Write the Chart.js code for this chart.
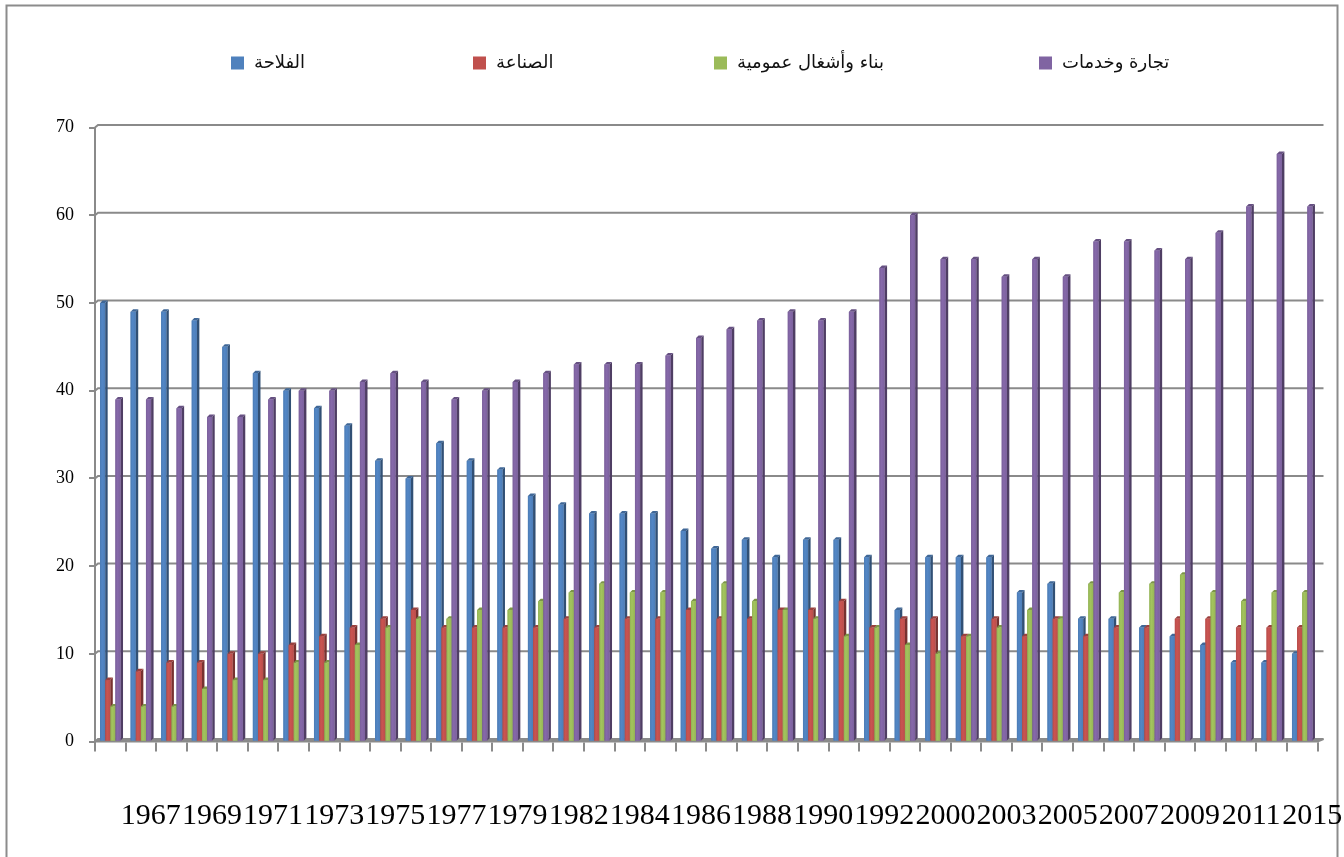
<!DOCTYPE html>
<html>
<head>
<meta charset="utf-8">
<script src="https://cdn.jsdelivr.net/npm/chart.js@4.4.1/dist/chart.umd.min.js"></script>
<style>
  html, body { margin: 0; padding: 0; background: #ffffff; }
  #wrap { width: 1344px; height: 857px; position: relative; }
</style>
</head>
<body>
<div id="wrap"><canvas id="chart" width="1344" height="857"></canvas></div>
<script>
// Employment share by sector (%), by year
const years = [
  '1966','1967','1968','1969','1970','1971','1972','1973','1974','1975',
  '1976','1977','1978','1979','1980','1982','1983','1984','1985','1986',
  '1987','1988','1989','1990','1991','1992','1999','2000','2001','2003',
  '2004','2005','2006','2007','2008','2009','2010','2011','2012','2015'
];
const agriculture = [
  50, 49, 49, 48, 45, 42, 40, 38, 36, 32,
  30, 34, 32, 31, 28, 27, 26, 26, 26, 24,
  22, 23, 21, 23, 23, 21, 15, 21, 21, 21,
  17, 18, 14, 14, 13, 12, 11, 9, 9, 10
];
const industry = [
  7, 8, 9, 9, 10, 10, 11, 12, 13, 14,
  15, 13, 13, 13, 13, 14, 13, 14, 14, 15,
  14, 14, 15, 15, 16, 13, 14, 14, 12, 14,
  12, 14, 12, 13, 13, 14, 14, 13, 13, 13
];
const construction = [
  4, 4, 4, 6, 7, 7, 9, 9, 11, 13,
  14, 14, 15, 15, 16, 17, 18, 17, 17, 16,
  18, 16, 15, 14, 12, 13, 11, 10, 12, 13,
  15, 14, 18, 17, 18, 19, 17, 16, 17, 17
];
const services = [
  39, 39, 38, 37, 37, 39, 40, 40, 41, 42,
  41, 39, 40, 41, 42, 43, 43, 43, 44, 46,
  47, 48, 49, 48, 49, 54, 60, 55, 55, 53,
  55, 53, 57, 57, 56, 55, 58, 61, 67, 61
];
const seriesNames = ['الفلاحة', 'الصناعة', 'بناء وأشغال عمومية', 'تجارة وخدمات'];
const yTickValues = [0, 10, 20, 30, 40, 50, 60, 70];

const COLORS = ['#4F81BD', '#C0504D', '#9BBB59', '#8064A2'];
const GRID = '#8a8a8a';

function shade(hex, f) {
  const n = parseInt(hex.slice(1), 16);
  const r = Math.round(((n >> 16) & 255) * f);
  const g = Math.round(((n >> 8) & 255) * f);
  const b = Math.round((n & 255) * f);
  return `rgb(${Math.min(r,255)},${Math.min(g,255)},${Math.min(b,255)})`;
}

// Outer frame around the whole chart
const framePlugin = {
  id: 'frame',
  beforeDraw(chart) {
    const ctx = chart.ctx;
    ctx.save();
    ctx.fillStyle = '#ffffff';
    ctx.fillRect(0, 0, chart.width, chart.height);
    ctx.strokeStyle = '#8c8c8c';
    ctx.lineWidth = 2;
    ctx.strokeRect(6.5, 5.5, 1331, 900);
    ctx.restore();
  }
};

// Back-wall gridlines, drawn with a small depth offset
const wallPlugin = {
  id: 'wall',
  beforeDatasetsDraw(chart) {
    const ctx = chart.ctx;
    const ys = chart.scales.y;
    const {left, right} = chart.chartArea;
    const dx = 3, dy = -2.5;
    ctx.save();
    ctx.strokeStyle = GRID;
    ctx.lineWidth = 2;
    yTickValues.forEach(v => {
      const y = ys.getPixelForValue(v);
      ctx.beginPath();
      ctx.moveTo(left, y);
      ctx.lineTo(left + dx, y + dy);
      ctx.lineTo(right + 6, y + dy);
      ctx.stroke();
      if (v === 0) {
        ctx.beginPath();
        ctx.moveTo(right, y);
        ctx.lineTo(right + 6, y + dy);
        ctx.stroke();
      }
    });
    ctx.restore();
  }
};

// Column depth: side and top faces, painted group by group so each
// column covers the side of its left neighbour
const depthPlugin = {
  id: 'depth',
  afterDatasetsDraw(chart) {
    const ctx = chart.ctx;
    const n = chart.data.labels.length;
    const dx = 2.5, dy = -2.5;
    ctx.save();
    for (let j = 0; j < n; j++) {
      chart.data.datasets.forEach((ds, i) => {
        const meta = chart.getDatasetMeta(i);
        if (meta.hidden) return;
        const el = meta.data[j];
        if (!el) return;
        const {x, y, base, width} = el.getProps(['x', 'y', 'base', 'width'], true);
        const l = x - width / 2, r = x + width / 2;
        const c = COLORS[i];
        // side
        ctx.fillStyle = shade(c, 0.62);
        ctx.beginPath();
        ctx.moveTo(r, y); ctx.lineTo(r + dx, y + dy);
        ctx.lineTo(r + dx, base + dy); ctx.lineTo(r, base);
        ctx.closePath(); ctx.fill();
        // top
        ctx.fillStyle = shade(c, 0.8);
        ctx.beginPath();
        ctx.moveTo(l, y); ctx.lineTo(l + dx, y + dy);
        ctx.lineTo(r + dx, y + dy); ctx.lineTo(r, y);
        ctx.closePath(); ctx.fill();
        // front
        const g = ctx.createLinearGradient(l, 0, r, 0);
        g.addColorStop(0, shade(c, 0.95));
        g.addColorStop(0.4, shade(c, 1.05));
        g.addColorStop(1, shade(c, 0.97));
        ctx.fillStyle = g;
        ctx.fillRect(l, y, r - l, base - y);
      });
    }
    ctx.restore();
  }
};

// Legend row along the top
const legendRowPlugin = {
  id: 'legendRow',
  afterDraw(chart, args, opts) {
    const ctx = chart.ctx;
    ctx.save();
    ctx.font = opts.font;
    ctx.textBaseline = 'middle';
    ctx.textAlign = 'left';
    chart.data.datasets.forEach((ds, i) => {
      const bx = opts.positions[i];
      ctx.fillStyle = COLORS[i];
      ctx.fillRect(bx, opts.y - opts.box / 2, opts.box, opts.box);
      ctx.fillStyle = '#111111';
      ctx.fillText(ds.label, bx + opts.box + opts.gap, opts.y);
    });
    ctx.restore();
  }
};

const data = {
  labels: years,
  datasets: [agriculture, industry, construction, services].map((vals, i) => ({
    label: seriesNames[i],
    data: vals,
    backgroundColor: COLORS[i],
    borderWidth: 0,
    categoryPercentage: 0.67,
    barPercentage: 1.0
  }))
};

new Chart(document.getElementById('chart'), {
  type: 'bar',
  data,
  plugins: [framePlugin, wallPlugin, depthPlugin, legendRowPlugin],
  options: {
    responsive: false,
    animation: false,
    devicePixelRatio: 1,
    layout: { padding: { left: 0, right: 26.5, top: 127.6, bottom: 0 } },
    plugins: {
      legend: { display: false },
      tooltip: { enabled: false },
      legendRow: {
        positions: [231, 473, 714, 1039],
        y: 63,
        box: 13,
        gap: 10,
        font: '18px "DejaVu Sans", sans-serif'
      }
    },
    scales: {
      x: {
        offset: true,
        grid: {
          offset: true,
          drawOnChartArea: false,
          drawTicks: true,
          tickLength: 10,
          color: GRID,
          lineWidth: 2
        },
        border: { color: GRID, width: 2.5 },
        ticks: {
          autoSkip: false,
          maxRotation: 0,
          minRotation: 0,
          padding: 47,
          labelOffset: 10,
          color: '#000000',
          font: { family: '"Liberation Serif", "Times New Roman", serif', size: 30 },
          callback: (value, index) => (index % 2 === 1 ? years[index] : '')
        },
        afterFit(scale) {
          scale.height = 115.5;
          scale.paddingLeft = 0;
          scale.paddingRight = 0;
        }
      },
      y: {
        min: 0,
        max: 70,
        grid: {
          drawOnChartArea: false,
          drawTicks: true,
          tickLength: 6,
          color: GRID,
          lineWidth: 2
        },
        border: { color: GRID, width: 2 },
        ticks: {
          stepSize: 10,
          padding: 15,
          color: '#000000',
          font: { family: '"Liberation Serif", "Times New Roman", serif', size: 18 }
        },
        afterFit(scale) {
          scale.width = 95;
          scale.paddingTop = 0;
          scale.paddingBottom = 0;
        }
      }
    }
  }
});
</script>
</body>
</html>
